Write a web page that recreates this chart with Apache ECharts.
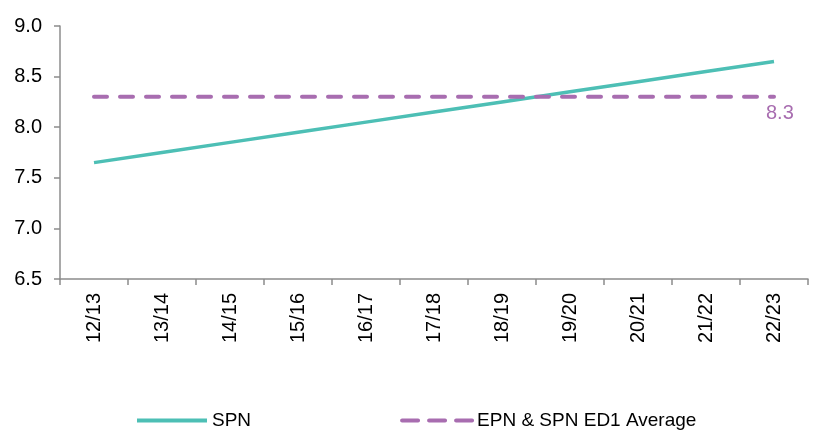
<!DOCTYPE html>
<html><head><meta charset="utf-8">
<script src="https://cdn.jsdelivr.net/npm/echarts@6/dist/echarts.min.js"></script>
<style>html,body{margin:0;padding:0;background:#fff}#c{width:823px;height:430px}</style>
</head><body><div id="c"></div>
<script>
const categories = ['12/13','13/14','14/15','15/16','16/17','17/18','18/19','19/20','20/21','21/22','22/23'];
const spn = [7.65, 7.75, 7.85, 7.95, 8.05, 8.15, 8.25, 8.35, 8.45, 8.55, 8.65];
const avg = [8.3, 8.3, 8.3, 8.3, 8.3, 8.3, 8.3, 8.3, 8.3, 8.3, 8.3];
const seriesNames = ['SPN', 'EPN & SPN ED1 Average'];
const teal = '#4dbfb5', purple = '#a86db0', axisCol = '#8c8c8c';
const font = 'Liberation Sans, Arial, sans-serif';
const chart = echarts.init(document.getElementById('c'));
chart.setOption({
  animation: false,
  grid: {left: 60, right: 15, top: 26, bottom: 151},
  legend: {
    top: 406, left: 130, itemWidth: 70, itemHeight: 4, itemGap: 149,
    textStyle: {fontFamily: font, fontSize: 19, color: '#000'},
    data: [
      {name: seriesNames[0], lineStyle: {width: 4, color: teal}},
      {name: seriesNames[1], lineStyle: {width: 4, color: purple, type: [16, 11], cap: 'round'}}
    ]
  },
  xAxis: {
    type: 'category', data: categories, boundaryGap: true,
    axisLine: {lineStyle: {color: axisCol, width: 1.5}},
    axisTick: {show: true, length: 6, lineStyle: {color: axisCol, width: 1.5}},
    axisLabel: {rotate: 90, fontFamily: font, fontSize: 20, color: '#000', margin: 14}
  },
  yAxis: {
    type: 'value', min: 6.5, max: 9.0, interval: 0.5,
    axisLine: {show: true, lineStyle: {color: axisCol, width: 1.5}},
    axisTick: {show: true, length: 6, lineStyle: {color: axisCol, width: 1.5}},
    splitLine: {show: false},
    axisLabel: {fontFamily: font, fontSize: 20, color: '#000', margin: 18, formatter: v => v.toFixed(1)}
  },
  series: [
    {name: seriesNames[0], type: 'line', data: spn, symbol: 'none',
     lineStyle: {color: teal, width: 3.5}, itemStyle: {color: teal}},
    {name: seriesNames[1], type: 'line', data: avg, symbol: 'none',
     lineStyle: {color: purple, width: 4, type: [13, 13], cap: 'round'}, itemStyle: {color: purple},
     endLabel: {show: true, formatter: p => p.value.toFixed(1), offset: [-16, 17],
       color: purple, fontFamily: font, fontSize: 20}}
  ]
});
</script></body></html>
